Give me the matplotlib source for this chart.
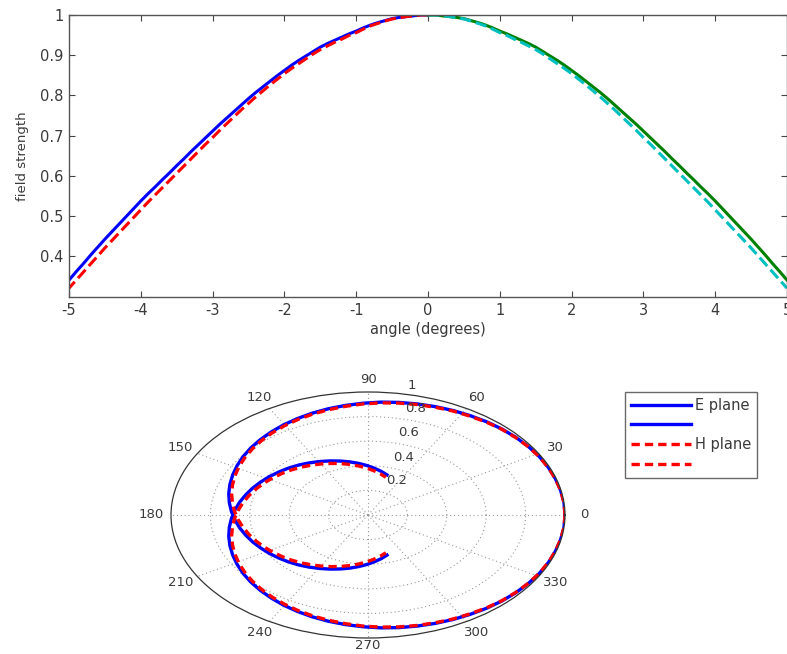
import matplotlib
matplotlib.use("Agg")
import matplotlib.pyplot as plt
import numpy as np

plt.rcParams['font.family'] = ['DejaVu Sans']

# ---- data ----
angles_pos = [0.0, 0.1, 0.2, 0.3, 0.4, 0.5, 0.6, 0.7, 0.8, 0.9,
              1.0, 1.1, 1.2, 1.3, 1.4, 1.5, 1.6, 1.7, 1.8, 1.9,
              2.0, 2.1, 2.2, 2.3, 2.4, 2.5, 2.6, 2.7, 2.8, 2.9,
              3.0, 3.1, 3.2, 3.3, 3.4, 3.5, 3.6, 3.7, 3.8, 3.9,
              4.0, 4.1, 4.2, 4.3, 4.4, 4.5, 4.6, 4.7, 4.8, 4.9, 5.0]
e_plane_pos = [1.000, 1.000, 0.998, 0.996, 0.994, 0.991, 0.986, 0.981, 0.975, 0.968,
               0.960, 0.953, 0.945, 0.937, 0.929, 0.920, 0.909, 0.898, 0.887, 0.875,
               0.862, 0.849, 0.835, 0.821, 0.807, 0.792, 0.776, 0.760, 0.744, 0.728,
               0.711, 0.694, 0.677, 0.660, 0.642, 0.625, 0.607, 0.590, 0.572, 0.555,
               0.537, 0.518, 0.499, 0.480, 0.461, 0.442, 0.422, 0.402, 0.381, 0.361,
               0.340]
h_plane_pos = [1.000, 1.000, 0.998, 0.996, 0.993, 0.990, 0.985, 0.979, 0.973, 0.965,
               0.956, 0.949, 0.940, 0.932, 0.923, 0.914, 0.903, 0.891, 0.879, 0.867,
               0.854, 0.840, 0.826, 0.811, 0.796, 0.780, 0.764, 0.747, 0.730, 0.713,
               0.695, 0.678, 0.660, 0.642, 0.624, 0.606, 0.588, 0.570, 0.552, 0.534,
               0.515, 0.496, 0.477, 0.458, 0.439, 0.420, 0.400, 0.380, 0.360, 0.340,
               0.320]
# left half: symmetric pattern
angles_neg = [-a for a in angles_pos]
e_plane_neg = list(e_plane_pos)
h_plane_neg = list(h_plane_pos)

xticks = [-5, -4, -3, -2, -1, 0, 1, 2, 3, 4, 5]
yticks = [0.4, 0.5, 0.6, 0.7, 0.8, 0.9, 1.0]
ytick_labels = ['0.4', '0.5', '0.6', '0.7', '0.8', '0.9', '1']
theta_labels = [0, 30, 60, 90, 120, 150, 180, 210, 240, 270, 300, 330]
r_tick_labels = ['0.2', '0.4', '0.6', '0.8', '1']

txt = '#3a3a3a'
fig = plt.figure(figsize=(7.87, 6.54), dpi=100)

# ---- top cartesian plot ----
ax = fig.add_axes([69/787, 1-297/654, 718/787, 282/654])
ax.plot(angles_neg, e_plane_neg, color=(0, 0, 1), lw=2.2)
ax.plot(angles_neg, h_plane_neg, color=(1, 0, 0), lw=2.2, ls='--')
ax.plot(angles_pos, e_plane_pos, color=(0, 0.5, 0), lw=2.2)
ax.plot(angles_pos, h_plane_pos, color=(0, 0.75, 0.75), lw=2.2, ls='--')
ax.set_xlim(-5, 5)
ax.set_ylim(0.298, 1.0)
ax.set_xticks(xticks)
ax.set_xticklabels([str(v) for v in xticks])
ax.set_yticks(yticks)
ax.set_yticklabels(ytick_labels)
ax.tick_params(direction='in', length=4, width=0.8, colors='#444444',
               labelcolor=txt, labelsize=10.5, top=True, right=True, pad=4)
for s in ax.spines.values():
    s.set_color('#555555')
    s.set_linewidth(1.0)
ax.set_xlabel('angle (degrees)', fontsize=10.5, color=txt, labelpad=3)
ax.set_ylabel('field strength', fontsize=9.5, color=txt, labelpad=8)

# ---- bottom polar plot (MATLAB style, stretched) ----
pax = fig.add_axes([171/787, 1-638/654, 394/787, 246/654], projection='polar')
pax.set_aspect('auto')
l1, = pax.plot(angles_neg, e_plane_neg, color=(0, 0, 1), lw=2.4)
l2, = pax.plot(angles_pos, e_plane_pos, color=(0, 0, 1), lw=2.4)
l3, = pax.plot(angles_neg, h_plane_neg, color=(1, 0, 0), lw=2.4, ls=(0, (2.5, 1.5)))
l4, = pax.plot(angles_pos, h_plane_pos, color=(1, 0, 0), lw=2.4, ls=(0, (2.5, 1.5)))
pax.set_ylim(0, 1)
pax.set_thetagrids(theta_labels, labels=[''] * len(theta_labels))
pax.set_rgrids([0.2, 0.4, 0.6, 0.8], labels=[''] * 4)
pax.grid(True, color='#9a9a9a', lw=0.8, ls=(0, (1, 2.5)))
pax.spines['polar'].set_color('#333333')
pax.spines['polar'].set_linewidth(0.9)
pax.tick_params(length=0)

for t in theta_labels:
    rr = 1.065 if t == 270 else 1.1
    pax.text(np.deg2rad(t), rr, str(t), ha='center', va='center',
             fontsize=9.5, color=txt, clip_on=False)

r_label_pos = [(62.7, 0.32), (69.0, 0.50), (73.0, 0.70), (74.6, 0.90), (78.0, 1.08)]
for (ang, rr), lab in zip(r_label_pos, r_tick_labels):
    pax.text(np.deg2rad(ang), rr, lab, ha='center', va='center',
             fontsize=9.5, color=txt, clip_on=False)

leg = fig.legend([l1, l2, l3, l4], ['E plane', '', 'H plane', ''],
                 loc='upper left', bbox_to_anchor=(625/787, 1-392/654),
                 frameon=True, fancybox=False, fontsize=10.5,
                 handlelength=4.1, handletextpad=0.3, labelspacing=0.32,
                 borderpad=0.4, borderaxespad=0)
leg.get_frame().set_edgecolor('#444444')
leg.get_frame().set_linewidth(1.0)
for t in leg.get_texts():
    t.set_color(txt)

fig.savefig('out.png', dpi=100)
